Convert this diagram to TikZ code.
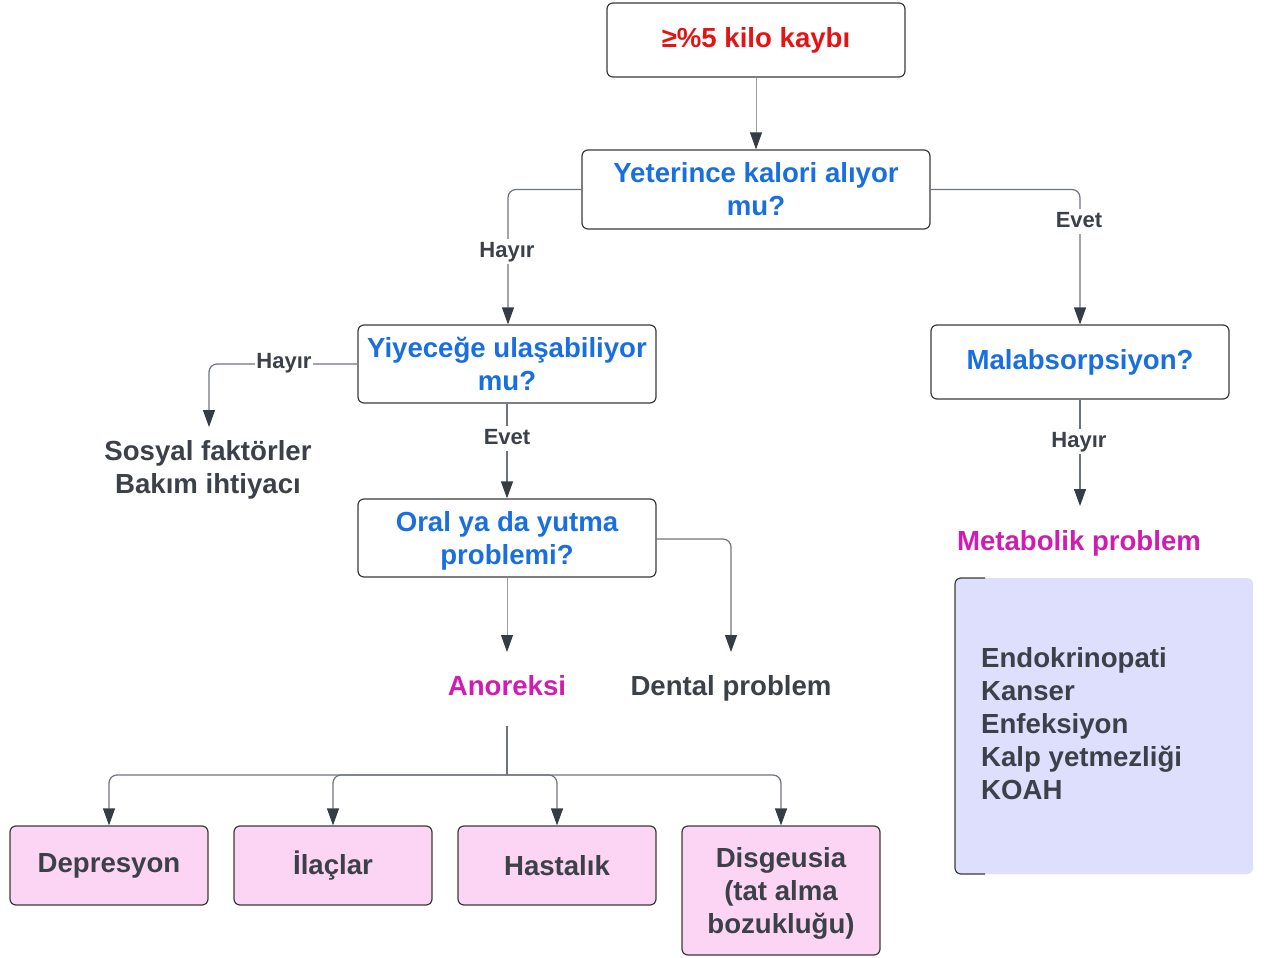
\documentclass[tikz,border=0pt]{standalone}
\usepackage{fontspec}
\setmainfont{Liberation Sans}
\usetikzlibrary{arrows.meta}
\definecolor{txt}{HTML}{3B4049}
\definecolor{blu}{HTML}{1A6FE0}
\definecolor{redc}{HTML}{E41414}
\definecolor{mag}{HTML}{D01CB0}
\definecolor{linec}{HTML}{6E747C}
\definecolor{lightc}{HTML}{9AA0A8}
\definecolor{tipc}{HTML}{363C45}
\definecolor{pinkf}{HTML}{FDD5F4}
\definecolor{lavf}{HTML}{DEDFFC}
\definecolor{bord}{HTML}{3A3A3A}
\tikzset{
  big/.style={font=\bfseries\fontsize{27.6}{33}\selectfont},
  qbox/.style={big, draw=bord, line width=1.2pt, rounded corners=6pt, fill=white, minimum width=298pt, align=center, inner sep=0pt},
  pbox/.style={big, text=txt, draw=bord, line width=1.2pt, rounded corners=6pt, fill=pinkf, minimum width=198pt, align=center, inner sep=0pt},
  plain/.style={big, align=center, inner sep=0pt, text depth=0pt},
  lab/.style={font=\bfseries\fontsize{22}{26}\selectfont, text=txt, fill=white, inner sep=1.5pt, text height=17pt, text depth=5pt},
  conn/.style={draw=linec, line width=1.2pt, rounded corners=8pt, -{Triangle[length=17pt,width=12pt,color=tipc]}},
  lconn/.style={conn, draw=lightc, line width=0.9pt},
  seg/.style={draw=linec, line width=1.2pt, rounded corners=8pt}
}
\begin{document}
\begin{tikzpicture}[x=1pt,y=-1pt]
\useasboundingbox (0,0) rectangle (1264,958);
% boxes
\node[qbox, text=redc, minimum height=74pt] (top) at (756,40) {≥\%5 kilo kaybı};
\node[qbox, text=blu, minimum width=348pt, minimum height=79pt] (yet) at (756,189.5) {Yeterince kalori alıyor\\mu?};
\node[qbox, text=blu, minimum height=78pt] (yiy) at (507,364) {Yiyeceğe ulaşabiliyor\\mu?};
\node[qbox, text=blu, minimum height=74pt] (mal) at (1080,362) {Malabsorpsiyon?};
\node[qbox, text=blu, minimum height=78pt, text depth=0pt] (oral) at (507,538) {Oral ya da yutma\\problemi?};
\node[plain, text=txt] (sos) at (208,466.5) {Sosyal faktörler\\Bakım ihtiyacı};
\node[plain, text=mag] (ano) at (507,685) {Anoreksi};
\node[plain, text=txt] (den) at (731,685) {Dental problem};
\node[plain, text=mag] (met) at (1079,540) {Metabolik problem};
% purple box
\fill[lavf, rounded corners=6pt] (955,578) rectangle (1253,874);
\draw[bord, line width=1.2pt, rounded corners=6pt] (985,578) -- (955,578) -- (955,874) -- (985,874);
\node[big, text=txt, align=left, anchor=north west, inner sep=0pt] (lst) at (981,647) {Endokrinopati\\Kanser\\Enfeksiyon\\Kalp yetmezliği\\KOAH};
% bottom boxes
\node[pbox, minimum height=79pt] (dep) at (109,865.5) {Depresyon};
\node[pbox, minimum height=79pt] (ila) at (333,865.5) {İlaçlar};
\node[pbox, minimum height=79pt] (has) at (557,865.5) {Hastalık};
\node[pbox, minimum height=129pt, text depth=0pt] (dis) at (781,890.5) {Disgeusia\\(tat alma\\bozukluğu)};
% coordinates
\coordinate (sosT) at (209,427);
\coordinate (anoT) at (507,652);
\coordinate (denT) at (731,652);
\coordinate (metT) at (1080,506);
\coordinate (anoB) at (507,726);
\coordinate (jn) at (507,775);
% connectors
\draw[lconn] (top.south) -- (yet.north);
\draw[conn] (yet.west) -- (508,189.5) -- (yiy.north -| 508,0);
\draw[conn] (yet.east) -- (1080,189.5) -- (mal.north);
\draw[conn] (yiy.west) -- (209,364) -- (sosT);
\draw[conn] (yiy.south) -- (oral.north);
\draw[conn] (mal.south) -- (metT);
\draw[lconn] (oral.south) -- (anoT);
\draw[conn] (oral.east |- 0,539) -- (731,539) -- (denT);
\draw[seg] (anoB) -- (jn);
\draw[conn] (jn) -- (109,775) -- (dep.north);
\draw[conn] (jn) -- (333,775) -- (ila.north);
\draw[conn] (jn) -- (557,775) -- (has.north);
\draw[conn] (jn) -- (781,775) -- (dis.north);
% labels
\node[lab] (l1) at (507,251) {Hayır};
\node[lab] (l2) at (1079,221.5) {Evet};
\node[lab] (l3) at (284,362) {Hayır};
\node[lab] (l4) at (507,438.5) {Evet};
\node[lab] (l5) at (1079,441) {Hayır};
\end{tikzpicture}
\end{document}
